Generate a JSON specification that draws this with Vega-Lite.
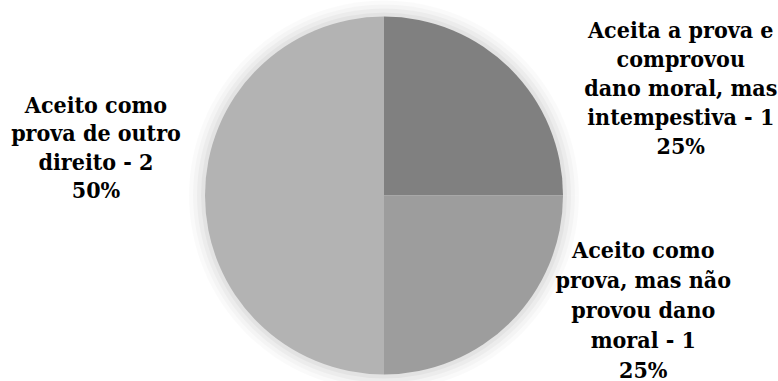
{
  "$schema": "https://vega.github.io/schema/vega-lite/v6.json",
  "autosize": {"type": "none"},
  "width": 768,
  "height": 371,
  "padding": {"left": 0, "top": 10, "right": 10, "bottom": 0},
  "background": "#ffffff",
  "config": {"view": {"stroke": null}},
  "data": {
    "values": [
      {"ordem": 1, "categoria": "Aceita a prova e comprovou dano moral, mas intempestiva", "quantidade": 1, "percentual": "25%", "rotulo": "Aceita a prova e\ncomprovou\ndano moral, mas\nintempestiva - 1\n25%"},
      {"ordem": 2, "categoria": "Aceito como prova, mas não provou dano moral", "quantidade": 1, "percentual": "25%", "rotulo": "Aceito como\nprova, mas não\nprovou dano\nmoral - 1\n25%"},
      {"ordem": 3, "categoria": "Aceito como prova de outro direito", "quantidade": 2, "percentual": "50%", "rotulo": "Aceito como\nprova de outro\ndireito - 2\n50%"}
    ]
  },
  "encoding": {
    "theta": {"field": "quantidade", "type": "quantitative", "stack": true},
    "order": {"field": "ordem", "type": "quantitative"}
  },
  "layer": [
    {"mark": {"type": "arc", "radius": 195, "fill": "#000000", "opacity": 0.02}},
    {"mark": {"type": "arc", "radius": 191, "fill": "#000000", "opacity": 0.025}},
    {"mark": {"type": "arc", "radius": 187, "fill": "#000000", "opacity": 0.03}},
    {"mark": {"type": "arc", "radius": 183, "fill": "#000000", "opacity": 0.035}},
    {
      "mark": {"type": "arc", "radius": 179},
      "encoding": {
        "color": {
          "field": "categoria",
          "type": "nominal",
          "scale": {
            "domain": ["Aceita a prova e comprovou dano moral, mas intempestiva", "Aceito como prova, mas não provou dano moral", "Aceito como prova de outro direito"],
            "range": ["#808080", "#9d9d9d", "#b3b3b3"]
          },
          "legend": null
        }
      }
    },
    {
      "mark": {"type": "text", "radius": 151, "dx": 190, "dy": -58, "font": "DejaVu Serif Condensed", "fontWeight": "bold", "fontSize": 23, "lineHeight": 29, "lineBreak": "\n", "align": "center", "baseline": "middle", "color": "#000000"},
      "encoding": {"text": {"condition": {"test": "datum.ordem == 1", "field": "rotulo"}, "value": ""}}
    },
    {
      "mark": {"type": "text", "radius": 163, "dx": 144, "dy": -60, "font": "DejaVu Serif Condensed", "fontWeight": "bold", "fontSize": 23, "lineHeight": 30, "lineBreak": "\n", "align": "center", "baseline": "middle", "color": "#000000"},
      "encoding": {"text": {"condition": {"test": "datum.ordem == 2", "field": "rotulo"}, "value": ""}}
    },
    {
      "mark": {"type": "text", "radius": 288, "dx": 0, "dy": -90, "font": "DejaVu Serif Condensed", "fontWeight": "bold", "fontSize": 23, "lineHeight": 28.5, "lineBreak": "\n", "align": "center", "baseline": "middle", "color": "#000000"},
      "encoding": {"text": {"condition": {"test": "datum.ordem == 3", "field": "rotulo"}, "value": ""}}
    }
  ]
}
